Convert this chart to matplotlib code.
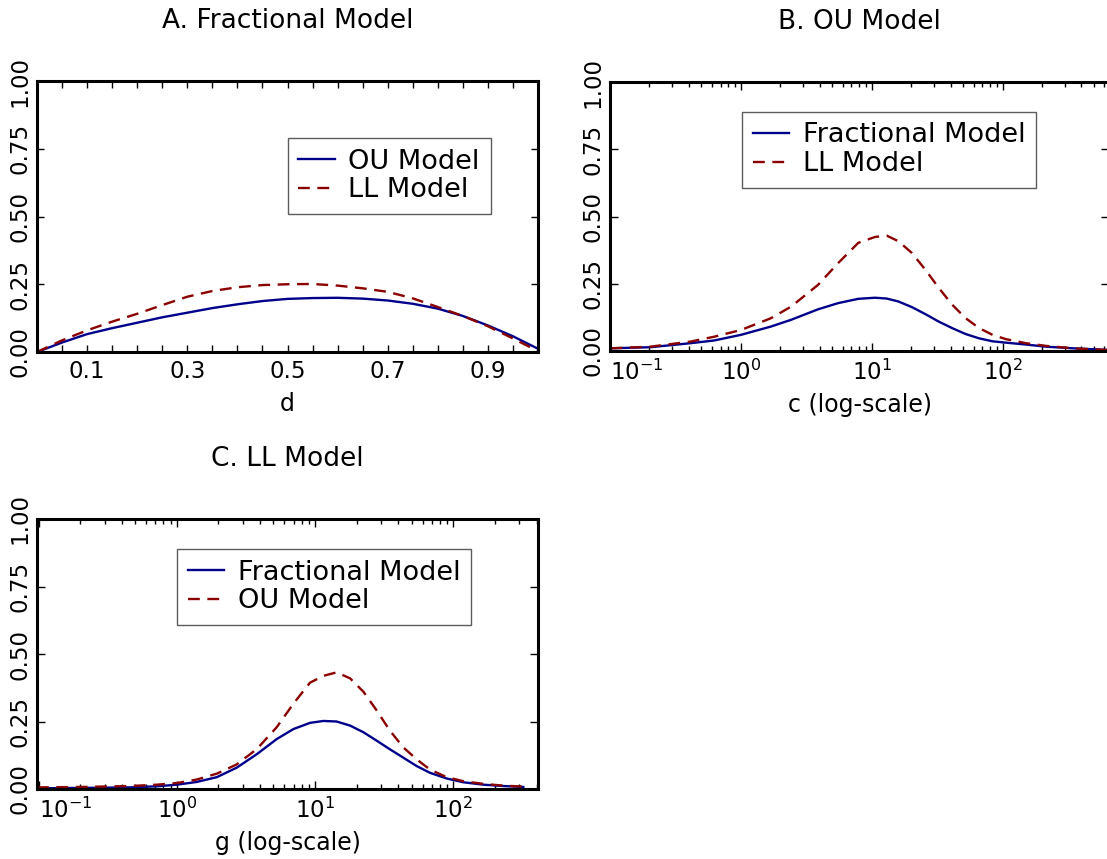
import matplotlib
matplotlib.use("Agg")
import matplotlib.pyplot as plt
from matplotlib.ticker import MultipleLocator, FixedLocator, LogLocator, NullFormatter

# ---- data ----
# A. Fractional Model (x = d)
d_vals = [0.0, 0.05, 0.1, 0.15, 0.2, 0.25, 0.3, 0.35, 0.4, 0.45, 0.5,
          0.55, 0.6, 0.65, 0.7, 0.75, 0.8, 0.85, 0.9, 0.95, 1.0]
a_ou = [0.0, 0.035, 0.066, 0.088, 0.108, 0.128, 0.145, 0.162, 0.176, 0.188, 0.196,
        0.199, 0.2, 0.197, 0.19, 0.178, 0.16, 0.133, 0.098, 0.058, 0.012]
a_ll = [0.0, 0.043, 0.08, 0.112, 0.141, 0.173, 0.204, 0.225, 0.239, 0.247, 0.25,
        0.251, 0.245, 0.235, 0.222, 0.198, 0.166, 0.133, 0.095, 0.05, 0.003]

# B. OU Model (x = c, log scale)
c_vals = [0.101, 0.203, 0.412, 0.624, 1.0, 1.70, 2.42, 3.89, 5.54, 7.89, 10.6,
          13.0, 16.0, 20.3, 25.7, 32.6, 41.2, 52.2, 66.2, 83.8, 106, 151, 215,
          345, 624, 1000]
b_frac = [0.01, 0.014, 0.029, 0.039, 0.06, 0.091, 0.116, 0.155, 0.178, 0.194, 0.198,
          0.195, 0.184, 0.163, 0.137, 0.109, 0.085, 0.063, 0.047, 0.036, 0.031, 0.024,
          0.016, 0.01, 0.004, 0.002]
b_ll = [0.01, 0.016, 0.035, 0.053, 0.078, 0.122, 0.165, 0.246, 0.327, 0.402, 0.424,
        0.429, 0.408, 0.364, 0.302, 0.234, 0.172, 0.122, 0.085, 0.06, 0.044, 0.029,
        0.019, 0.01, 0.004, 0.002]

# C. LL Model (x = g, log scale)
g_vals = [0.0973, 0.200, 0.460, 0.717, 1.0, 1.39, 1.95, 2.71, 3.79, 5.28, 6.97,
          9.20, 11.5, 14.3, 17.9, 22.4, 27.9, 34.8, 43.5, 54.3, 67.8, 89.5, 118,
          165, 230, 321]
c_frac = [0.0025, 0.004, 0.006, 0.01, 0.016, 0.026, 0.044, 0.079, 0.129, 0.185, 0.222,
          0.245, 0.252, 0.25, 0.235, 0.21, 0.179, 0.147, 0.116, 0.085, 0.06, 0.039,
          0.025, 0.016, 0.011, 0.0075]
c_ou = [0.006, 0.0075, 0.011, 0.016, 0.022, 0.035, 0.057, 0.091, 0.148, 0.229, 0.316,
        0.394, 0.419, 0.432, 0.41, 0.36, 0.291, 0.216, 0.154, 0.11, 0.072, 0.044,
        0.029, 0.019, 0.0125, 0.009]

y_ticks = [0.0, 0.25, 0.5, 0.75, 1.0]
y_labels = ["0.00", "0.25", "0.50", "0.75", "1.00"]

BLUE = "#00008b"
RED = "#8b0000"
DASH = (0, (5, 3.2))
W, H = 1107, 859

plt.rcParams["font.family"] = ["DejaVu Sans"]


def px_axes(fig, x0, x1, y0, y1):
    # pixel box (from top-left) -> figure fraction axes
    return fig.add_axes([x0 / W, (H - y1) / H, (x1 - x0) / W, (y1 - y0) / H])


def style(ax, title, xlabel):
    for sp in ax.spines.values():
        sp.set_linewidth(2.2)
    ax.set_ylim(0, 1)
    ax.set_yticks(y_ticks)
    ax.set_yticklabels(y_labels, rotation=90, va="center")
    ax.tick_params(which="both", direction="in", top=True, right=True,
                   labelsize=16.5, width=1)
    ax.tick_params(which="major", length=6, pad=6)
    ax.tick_params(which="minor", length=3.5)
    ax.tick_params(axis="y", pad=4)
    ax.set_title(title, fontsize=19, pad=38)
    ax.set_xlabel(xlabel, fontsize=17, labelpad=6)


def legend(ax, labels, x, y):
    leg = ax.legend(labels, loc="upper left", bbox_to_anchor=(x, y),
                    borderaxespad=0, fontsize=19.5, fancybox=False,
                    handlelength=1.35, handletextpad=0.5, labelspacing=0.1,
                    borderpad=0.4)
    leg.get_frame().set_edgecolor("#333333")
    leg.get_frame().set_linewidth(1.0)


def log_axis(ax, lo, hi):
    ax.set_xscale("log")
    ax.set_xlim(lo, hi)
    ax.xaxis.set_major_locator(FixedLocator([0.1, 1, 10, 100]))
    ax.xaxis.set_minor_locator(LogLocator(subs=range(2, 10)))
    ax.xaxis.set_minor_formatter(NullFormatter())
    ax.set_xticklabels([r"$10^{-1}$", r"$10^{0}$", r"$10^{1}$", r"$10^{2}$"])
    first = ax.get_xticklabels()[0]
    first.set_horizontalalignment("left")


fig = plt.figure(figsize=(W / 100, H / 100), dpi=100)

# A
axA = px_axes(fig, 37, 538, 81, 352)
axA.plot(d_vals, a_ou, color=BLUE, lw=1.7)
axA.plot(d_vals, a_ll, color=RED, lw=1.7, ls=DASH)
axA.set_xlim(0, 1)
axA.xaxis.set_major_locator(FixedLocator([0.1, 0.3, 0.5, 0.7, 0.9]))
axA.xaxis.set_minor_locator(MultipleLocator(0.05))
style(axA, "A. Fractional Model", "d")
axA.tick_params(which="minor", length=5)
axA.tick_params(which="major", length=5)
legend(axA, ["OU Model", "LL Model"], 0.50, 0.79)

# B
axB = px_axes(fig, 610, 1109, 82, 351)
axB.plot(c_vals, b_frac, color=BLUE, lw=1.7)
axB.plot(c_vals, b_ll, color=RED, lw=1.7, ls=DASH)
log_axis(axB, 0.1, 650)
style(axB, "B. OU Model", "c (log-scale)")
legend(axB, ["Fractional Model", "LL Model"], 0.264, 0.89)

# C
axC = px_axes(fig, 37, 538, 519, 789)
axC.plot(g_vals, c_frac, color=BLUE, lw=1.7)
axC.plot(g_vals, c_ou, color=RED, lw=1.7, ls=DASH)
log_axis(axC, 0.0973, 410)
style(axC, "C. LL Model", "g (log-scale)")
legend(axC, ["Fractional Model", "OU Model"], 0.279, 0.89)

fig.savefig("out.png", dpi=100)
